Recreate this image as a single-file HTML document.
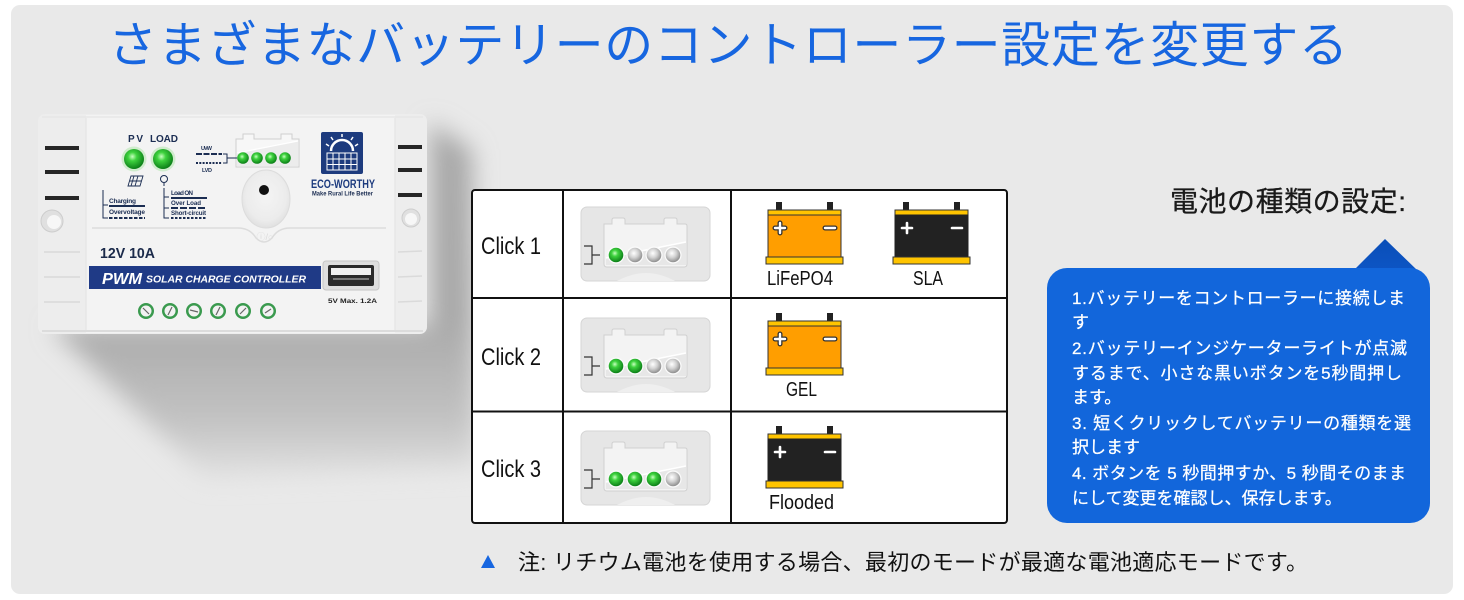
<!DOCTYPE html>
<html><head><meta charset="utf-8">
<style>
html,body{margin:0;padding:0;background:#fff;width:1464px;height:600px;overflow:hidden;}
svg{display:block;}
text{font-family:"Liberation Sans","Noto Sans CJK JP",sans-serif;}
</style></head><body>
<svg width="1464" height="600" viewBox="0 0 1464 600" xmlns="http://www.w3.org/2000/svg">
<defs>
 <filter id="blur" x="-50%" y="-50%" width="200%" height="200%"><feGaussianBlur stdDeviation="12"/></filter>
 <linearGradient id="shg" x1="0" y1="320" x2="0" y2="490" gradientUnits="userSpaceOnUse">
   <stop offset="0" stop-color="#a9a9a9"/>
   <stop offset="0.6" stop-color="#c3c3c3"/>
   <stop offset="1" stop-color="#e9e9e9"/>
 </linearGradient>
 <radialGradient id="ledG" cx="0.42" cy="0.38" r="0.62">
   <stop offset="0" stop-color="#c8ffc0"/>
   <stop offset="0.35" stop-color="#3ed23e"/>
   <stop offset="1" stop-color="#0c7f18"/>
 </radialGradient>
 <radialGradient id="ledO" cx="0.42" cy="0.38" r="0.62">
   <stop offset="0" stop-color="#ffffff"/>
   <stop offset="0.5" stop-color="#d2d2d2"/>
   <stop offset="1" stop-color="#8f8f8f"/>
 </radialGradient>
 <radialGradient id="btnG" cx="0.5" cy="0.45" r="0.6">
   <stop offset="0" stop-color="#f4f4f4"/>
   <stop offset="0.7" stop-color="#ececec"/>
   <stop offset="1" stop-color="#dcdcdc"/>
 </radialGradient>
 <linearGradient id="triG" x1="0" y1="0" x2="0" y2="1">
   <stop offset="0" stop-color="#0a4eb8"/>
   <stop offset="1" stop-color="#0d55c4"/>
 </linearGradient>

 <g id="panel">
   <rect x="0" y="0" width="129" height="74" rx="6" fill="#e6e6e6" stroke="#d5d5d5"/>
   <path d="M36,74 Q65,58 94,74 Z" fill="#efefef"/>
   <path d="M23,17 H31 V13 Q31,11 33,11 H42 Q44,11 44,13 V17 H83 V13 Q83,11 85,11 H94 Q96,11 96,13 V17 H104 Q106,17 106,19 V57 Q106,60 103,60 H26 Q23,60 23,57 Z" fill="#f3f3f3" stroke="#d0d0d0"/>
   <path d="M25,51 L105,35 V58 H25 Z" fill="#e7e7e7"/>
   <line x1="25" y1="51" x2="105" y2="35" stroke="#ffffff" stroke-width="1.5"/>
   <path d="M3,39 H11 V57 H3 M11,48 H19" stroke="#333" stroke-width="1.2" fill="none"/>
   <circle cx="35" cy="48" r="8.6" fill="#fafafa"/>
   <circle cx="54" cy="48" r="8.6" fill="#fafafa"/>
   <circle cx="73" cy="48" r="8.6" fill="#fafafa"/>
   <circle cx="92" cy="48" r="8.6" fill="#fafafa"/>
 </g>

 <g id="batO">
   <rect x="10" y="0" width="6" height="9" fill="#222"/>
   <rect x="61" y="0" width="6" height="9" fill="#222"/>
   <rect x="2" y="8" width="73" height="5" fill="#ffc400" stroke="#333" stroke-width="1"/>
   <rect x="2" y="13" width="73" height="42" fill="#ff9e00" stroke="#333" stroke-width="1"/>
   <rect x="0" y="55" width="77" height="7" fill="#ffc400" stroke="#333" stroke-width="1"/>
   <path d="M14,21 V31 M9,26 H19" stroke="#333" stroke-width="5" stroke-linecap="round"/>
   <path d="M14,21 V31 M9,26 H19" stroke="#fff" stroke-width="2.4" stroke-linecap="round"/>
   <path d="M59,26 H69" stroke="#333" stroke-width="5" stroke-linecap="round"/>
   <path d="M59,26 H69" stroke="#fff" stroke-width="2.4" stroke-linecap="round"/>
 </g>
 <g id="batB">
   <rect x="10" y="0" width="6" height="9" fill="#222"/>
   <rect x="61" y="0" width="6" height="9" fill="#222"/>
   <rect x="2" y="8" width="73" height="5" fill="#ffc400" stroke="#333" stroke-width="1"/>
   <rect x="2" y="13" width="73" height="42" fill="#222222" stroke="#222" stroke-width="1"/>
   <rect x="0" y="55" width="77" height="7" fill="#ffc400" stroke="#333" stroke-width="1"/>
   <path d="M14,21 V31 M9,26 H19" stroke="#fff" stroke-width="2.6" stroke-linecap="round"/>
   <path d="M59,26 H69" stroke="#fff" stroke-width="2.6" stroke-linecap="round"/>
 </g>
</defs>

<!-- background -->
<rect x="0" y="0" width="1464" height="600" fill="#ffffff"/>
<rect x="11" y="5" width="1442" height="589" rx="9" fill="#e9e9e9"/>

<!-- title -->
<text x="108" y="62" font-size="49" fill="#1766e0" textLength="1240" lengthAdjust="spacing">さまざまなバッテリーのコントローラー設定を変更する</text>

<!-- controller shadow -->
<polygon points="50,326 430,326 430,122 472,150 476,468 205,478" fill="url(#shg)" filter="url(#blur)"/>

<!-- controller -->
<g>
 <rect x="38" y="114" width="389" height="220" rx="7" fill="#ededed"/>
 <rect x="86" y="115" width="309" height="218" fill="#f3f3f3"/>
 <line x1="86" y1="118" x2="86" y2="330" stroke="#e2e2e2"/>
 <line x1="395" y1="118" x2="395" y2="330" stroke="#e2e2e2"/>
 <line x1="42" y1="117" x2="423" y2="117" stroke="#e2e2e2"/>
 <line x1="42" y1="331" x2="423" y2="331" stroke="#dcdcdc" stroke-width="2"/>
 <!-- vents -->
 <rect x="45" y="146" width="34" height="4" fill="#262626"/>
 <rect x="45" y="170" width="34" height="4" fill="#262626"/>
 <rect x="45" y="196" width="34" height="4" fill="#262626"/>
 <rect x="398" y="145" width="24" height="4" fill="#262626"/>
 <rect x="398" y="168" width="24" height="4" fill="#262626"/>
 <rect x="398" y="193" width="24" height="4" fill="#262626"/>
 <!-- holes -->
 <circle cx="52" cy="221" r="11" fill="#e0e0e0" stroke="#cdcdcd"/>
 <circle cx="54" cy="222" r="7" fill="#f7f7f7"/>
 <circle cx="411" cy="218" r="9" fill="#e0e0e0" stroke="#cdcdcd"/>
 <circle cx="411" cy="219" r="6" fill="#f7f7f7"/>
 <!-- ribs -->
 <g stroke="#dadada" stroke-width="1.5">
  <line x1="44" y1="252" x2="80" y2="252"/><line x1="44" y1="277" x2="80" y2="277"/><line x1="44" y1="302" x2="80" y2="302"/>
  <line x1="398" y1="252" x2="422" y2="251"/><line x1="398" y1="277" x2="422" y2="276"/><line x1="398" y1="302" x2="422" y2="301"/>
 </g>
 <!-- panel curve -->
 <path d="M92,228 H238 Q250,228 256,238 Q264,246 272,238 Q278,228 290,228 H386" stroke="#dcdcdc" stroke-width="1.5" fill="none"/>
 <!-- PV LOAD -->
 <text x="128" y="142" font-size="10" font-weight="bold" fill="#1b2d52" textLength="15">PV</text>
 <text x="150" y="142" font-size="10" font-weight="bold" fill="#1b2d52" textLength="28">LOAD</text>
 <circle cx="134" cy="159" r="12.5" fill="#cfeccc"/>
 <circle cx="163" cy="159" r="12.5" fill="#cfeccc"/>
 <circle cx="134" cy="159" r="10" fill="url(#ledG)"/>
 <circle cx="163" cy="159" r="10" fill="url(#ledG)"/>
 <!-- icons -->
 <path d="M131,176 H143 L140,186 H128 Z M134,176 L131,186 M138,176 L135,186 M129.5,181 H141.5" stroke="#1b2d52" stroke-width="0.9" fill="none"/>
 <circle cx="164" cy="179" r="3.5" stroke="#1b2d52" stroke-width="1" fill="none"/>
 <line x1="164" y1="183" x2="164" y2="186" stroke="#1b2d52" stroke-width="1"/>
 <!-- charging labels -->
 <path d="M103,190 V218 H108 M103,205 H108" stroke="#1b2d52" stroke-width="1" fill="none"/>
 <text x="109" y="203" font-size="6.5" font-weight="bold" fill="#1b2d52" textLength="27">Charging</text>
 <rect x="109" y="205" width="36" height="2" fill="#1b2d52"/>
 <text x="109" y="214" font-size="6.5" font-weight="bold" fill="#1b2d52" textLength="36">Overvoltage</text>
 <line x1="109" y1="218" x2="145" y2="218" stroke="#1b2d52" stroke-width="2" stroke-dasharray="3.5 1.5"/>
 <!-- load labels -->
 <path d="M164,188 V218 H169 M164,197 H169 M164,208 H169" stroke="#1b2d52" stroke-width="1" fill="none"/>
 <text x="171" y="195" font-size="6.2" font-weight="bold" fill="#1b2d52" textLength="22">Load ON</text>
 <rect x="171" y="197" width="36" height="2" fill="#1b2d52"/>
 <text x="171" y="205" font-size="6.2" font-weight="bold" fill="#1b2d52" textLength="30">Over Load</text>
 <line x1="171" y1="208" x2="207" y2="208" stroke="#1b2d52" stroke-width="2" stroke-dasharray="7 2"/>
 <text x="171" y="215" font-size="6.2" font-weight="bold" fill="#1b2d52" textLength="35">Short-circuit</text>
 <line x1="171" y1="218" x2="207" y2="218" stroke="#1b2d52" stroke-width="2" stroke-dasharray="2.5 1.5"/>
 <!-- battery indicator -->
 <path d="M236,139 H243 V134 H254 V139 H281 V134 H292 V139 H299 V167 H236 Z" fill="#f7f7f7" stroke="#cfcfcf"/>
 <path d="M237,153 L298,141 V166 H237 Z" fill="#ececec"/>
 <line x1="237" y1="153" x2="298" y2="141" stroke="#fff" stroke-width="1.2"/>
 <circle cx="243" cy="158" r="5.8" fill="url(#ledG)"/>
 <circle cx="257" cy="158" r="5.8" fill="url(#ledG)"/>
 <circle cx="271" cy="158" r="5.8" fill="url(#ledG)"/>
 <circle cx="285" cy="158" r="5.8" fill="url(#ledG)"/>
 <text x="201" y="150" font-size="5.5" font-weight="bold" fill="#1b2d52" textLength="11">UVW</text>
 <line x1="196" y1="154" x2="222" y2="154" stroke="#1b2d52" stroke-width="2" stroke-dasharray="6 1.5"/>
 <line x1="196" y1="163" x2="222" y2="163" stroke="#1b2d52" stroke-width="2" stroke-dasharray="2 1.3"/>
 <text x="202" y="172" font-size="5.5" font-weight="bold" fill="#1b2d52" textLength="10">LVD</text>
 <path d="M223,154 H227 V163 H223 M227,158 H237" stroke="#1b2d52" stroke-width="1" fill="none"/>
 <!-- button -->
 <ellipse cx="266" cy="199" rx="24" ry="29" fill="url(#btnG)" stroke="#dcdcdc"/>
 <circle cx="264" cy="190" r="5" fill="#111"/>
 <text x="265" y="240" font-size="9" fill="#dadada" text-anchor="middle">ⓘ/○</text>
 <!-- logo -->
 <rect x="321" y="132" width="42" height="42" rx="2" fill="#1d3b7e"/>
 <path d="M331,151 A11,11 0 0 1 353,151" stroke="#fff" stroke-width="2.5" fill="none"/>
 <g stroke="#fff" stroke-width="1.5">
  <line x1="329" y1="146" x2="326" y2="144"/><line x1="333" y1="140" x2="331" y2="137"/><line x1="342" y1="137" x2="342" y2="134"/><line x1="351" y1="140" x2="353" y2="137"/><line x1="355" y1="146" x2="358" y2="144"/>
 </g>
 <rect x="327" y="153" width="30" height="17" stroke="#fff" stroke-width="1" fill="none"/>
 <g stroke="#fff" stroke-width="1">
  <line x1="333" y1="153" x2="333" y2="170"/><line x1="339" y1="153" x2="339" y2="170"/><line x1="345" y1="153" x2="345" y2="170"/><line x1="351" y1="153" x2="351" y2="170"/>
  <line x1="327" y1="159" x2="357" y2="159"/><line x1="327" y1="164.5" x2="357" y2="164.5"/>
 </g>
 <text x="311" y="188" font-size="12" font-weight="bold" fill="#1d3b7e" textLength="64" lengthAdjust="spacingAndGlyphs">ECO-WORTHY</text>
 <text x="312" y="195.5" font-size="6" font-weight="bold" fill="#1b2d52" textLength="61" lengthAdjust="spacingAndGlyphs">Make Rural Life Better</text>
 <!-- 12V 10A -->
 <text x="100" y="258" font-size="15" font-weight="bold" fill="#1b2a4a" textLength="55" lengthAdjust="spacingAndGlyphs">12V 10A</text>
 <!-- banner -->
 <rect x="89" y="266" width="232" height="23" fill="#1f3a86"/>
 <text x="102" y="284" font-size="16" font-weight="bold" font-style="italic" fill="#fff" textLength="40" lengthAdjust="spacingAndGlyphs">PWM</text>
 <text x="146" y="282.5" font-size="10" font-weight="bold" font-style="italic" fill="#fff" textLength="160" lengthAdjust="spacingAndGlyphs">SOLAR CHARGE CONTROLLER</text>
 <!-- USB -->
 <rect x="323" y="261" width="56" height="29" rx="3" fill="#dedede" stroke="#c6c6c6"/>
 <rect x="328" y="265" width="46" height="21" rx="2" fill="#2a2a2a"/>
 <rect x="331" y="268" width="40" height="7" fill="#f0f0f0"/>
 <rect x="333" y="278" width="36" height="2" fill="#777"/>
 <text x="328" y="303" font-size="6.5" font-weight="bold" fill="#222" textLength="49" lengthAdjust="spacingAndGlyphs">5V  Max. 1.2A</text>
 <!-- terminals -->
 <g>
  <circle cx="146" cy="311" r="8" fill="#3a9a4e"/><circle cx="146" cy="311" r="5.5" fill="#f2f2f2"/><line x1="143" y1="308" x2="149" y2="314" stroke="#666" stroke-width="1.2"/>
  <circle cx="170" cy="311" r="8" fill="#3a9a4e"/><circle cx="170" cy="311" r="5.5" fill="#f2f2f2"/><line x1="172" y1="307" x2="168" y2="315" stroke="#666" stroke-width="1.2"/>
  <circle cx="194" cy="311" r="8" fill="#3a9a4e"/><circle cx="194" cy="311" r="5.5" fill="#f2f2f2"/><line x1="190" y1="310" x2="198" y2="312" stroke="#666" stroke-width="1.2"/>
  <circle cx="218" cy="311" r="8" fill="#3a9a4e"/><circle cx="218" cy="311" r="5.5" fill="#f2f2f2"/><line x1="220" y1="307" x2="216" y2="315" stroke="#666" stroke-width="1.2"/>
  <circle cx="243" cy="311" r="8" fill="#3a9a4e"/><circle cx="243" cy="311" r="5.5" fill="#f2f2f2"/><line x1="246" y1="308" x2="240" y2="314" stroke="#666" stroke-width="1.2"/>
  <circle cx="268" cy="311" r="8" fill="#3a9a4e"/><circle cx="268" cy="311" r="5.5" fill="#f2f2f2"/><line x1="271" y1="309" x2="265" y2="313" stroke="#666" stroke-width="1.2"/>
 </g>
</g>

<!-- table -->
<rect x="472" y="190" width="535" height="333" rx="3" fill="#ffffff" stroke="#111" stroke-width="2"/>
<line x1="563" y1="190" x2="563" y2="523" stroke="#111" stroke-width="2"/>
<line x1="731" y1="190" x2="731" y2="523" stroke="#111" stroke-width="2"/>
<line x1="472" y1="298" x2="1007" y2="298" stroke="#111" stroke-width="2"/>
<line x1="472" y1="411.5" x2="1007" y2="411.5" stroke="#111" stroke-width="2"/>

<text x="481" y="254" font-size="24" fill="#111" textLength="60" lengthAdjust="spacingAndGlyphs">Click 1</text>
<text x="481" y="365" font-size="24" fill="#111" textLength="60" lengthAdjust="spacingAndGlyphs">Click 2</text>
<text x="481" y="477" font-size="24" fill="#111" textLength="60" lengthAdjust="spacingAndGlyphs">Click 3</text>

<!-- LED panels -->
<use href="#panel" x="581" y="207"/>
<circle cx="616" cy="255" r="7.3" fill="url(#ledG)"/>
<circle cx="635" cy="255" r="7.3" fill="url(#ledO)"/>
<circle cx="654" cy="255" r="7.3" fill="url(#ledO)"/>
<circle cx="673" cy="255" r="7.3" fill="url(#ledO)"/>

<use href="#panel" x="581" y="318"/>
<circle cx="616" cy="366" r="7.3" fill="url(#ledG)"/>
<circle cx="635" cy="366" r="7.3" fill="url(#ledG)"/>
<circle cx="654" cy="366" r="7.3" fill="url(#ledO)"/>
<circle cx="673" cy="366" r="7.3" fill="url(#ledO)"/>

<use href="#panel" x="581" y="431"/>
<circle cx="616" cy="479" r="7.3" fill="url(#ledG)"/>
<circle cx="635" cy="479" r="7.3" fill="url(#ledG)"/>
<circle cx="654" cy="479" r="7.3" fill="url(#ledG)"/>
<circle cx="673" cy="479" r="7.3" fill="url(#ledO)"/>

<!-- batteries -->
<use href="#batO" x="766" y="202"/>
<use href="#batB" x="893" y="202"/>
<use href="#batO" x="766" y="313"/>
<use href="#batB" x="766" y="426"/>
<text x="767" y="285" font-size="20" fill="#111" textLength="66" lengthAdjust="spacingAndGlyphs">LiFePO4</text>
<text x="913" y="285" font-size="20" fill="#111" textLength="30" lengthAdjust="spacingAndGlyphs">SLA</text>
<text x="786" y="396" font-size="20" fill="#111" textLength="31" lengthAdjust="spacingAndGlyphs">GEL</text>
<text x="769" y="509" font-size="20" fill="#111" textLength="65" lengthAdjust="spacingAndGlyphs">Flooded</text>

<!-- right heading -->
<text x="1170" y="211" font-size="28" fill="#1a1a1a" stroke="#1a1a1a" stroke-width="0.3" textLength="236" lengthAdjust="spacing">電池の種類の設定:</text>

<!-- bubble -->
<polygon points="1385,239 1354,270 1417,270" fill="url(#triG)"/>
<rect x="1047" y="268" width="383" height="255" rx="20" fill="#1266db"/>
<g font-size="17" fill="#ffffff" stroke="#ffffff" stroke-width="0.25">
 <text x="1072" y="304" textLength="333" lengthAdjust="spacing">1.バッテリーをコントローラーに接続しま</text>
 <text x="1072" y="328">す</text>
 <text x="1072" y="354" textLength="335" lengthAdjust="spacing">2.バッテリーインジケーターライトが点滅</text>
 <text x="1072" y="379" textLength="330" lengthAdjust="spacing">するまで、小さな黒いボタンを5秒間押し</text>
 <text x="1072" y="403">ます。</text>
 <text x="1072" y="429" textLength="339" lengthAdjust="spacing">3. 短くクリックしてバッテリーの種類を選</text>
 <text x="1072" y="453">択します</text>
 <text x="1072" y="479" textLength="334" lengthAdjust="spacing">4. ボタンを 5 秒間押すか、5 秒間そのまま</text>
 <text x="1072" y="504">にして変更を確認し、保存します。</text>
</g>

<!-- note -->
<polygon points="488,555 481,568 495,568" fill="#1766e0"/>
<text x="518" y="570" font-size="22" fill="#111" textLength="790" lengthAdjust="spacing">注: リチウム電池を使用する場合、最初のモードが最適な電池適応モードです。</text>
</svg>
</body></html>
